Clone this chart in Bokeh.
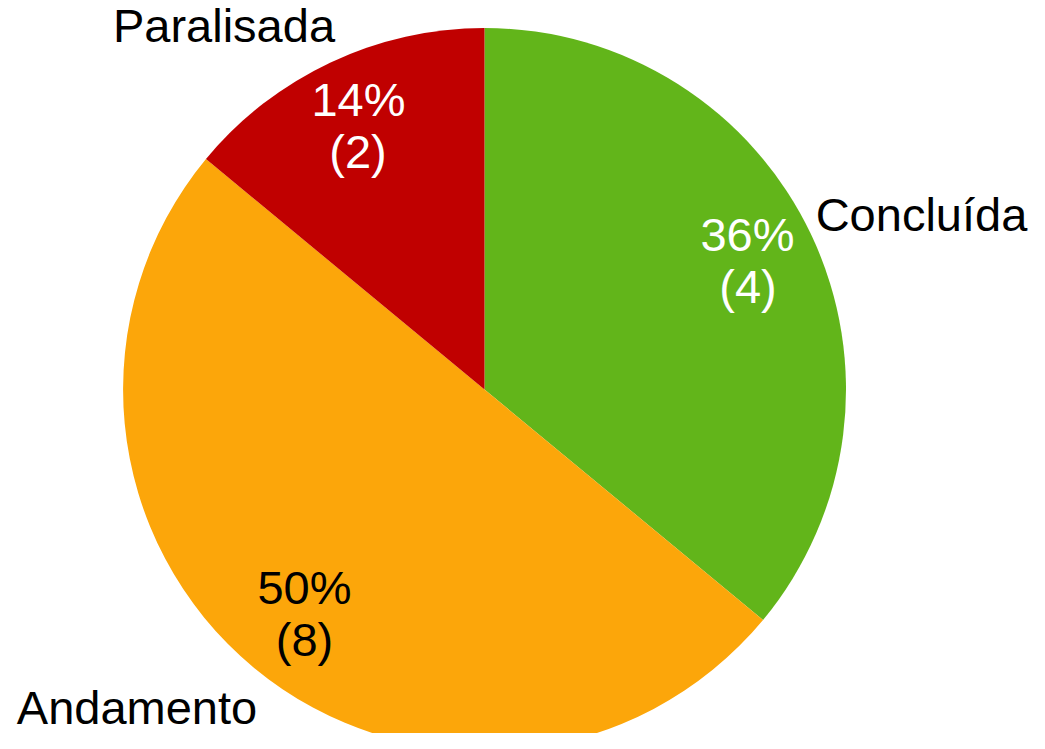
import math
from bokeh.plotting import figure
from bokeh.models import ColumnDataSource, Range1d
from bokeh.core.properties import value
from bokeh.embed import file_html
from bokeh.resources import INLINE

# ---- data ----
categories = ["Concluída", "Andamento", "Paralisada"]
percents = [36, 50, 14]
counts = [4, 8, 2]
colors = ["#62B51A", "#FCA60A", "#C00000"]
pct_text_colors = ["white", "black", "white"]

# ---- layout (picture pixel coords; y measured from top) ----
W, H = 1029, 733
cx, cy, R = 484, 389, 361.5
BASE_FIX = 18  # renderer places alphabetic baseline lower than requested
pct_pos = [(747, 252), (304, 605), (358, 117)]
cnt_pos = [(747.5, 304), (304, 657), (357.5, 169)]
name_pos = [(921, 232), (136.5, 725), (223.5, 43)]
FONT = "Liberation Sans"
FS = "47px"

def fy(y):
    return H - (y - BASE_FIX)

total = sum(percents)
starts, ends = [], []
acc = 0.0
for v in percents:
    a0 = math.pi / 2 - 2 * math.pi * acc / total
    acc += v
    a1 = math.pi / 2 - 2 * math.pi * acc / total
    starts.append(a0)
    ends.append(a1)

p = figure(width=W, height=H, output_backend="svg", toolbar_location=None,
           x_axis_type=None, y_axis_type=None,
           x_range=Range1d(0, W), y_range=Range1d(0, H),
           min_border=0, outline_line_color=None)
p.grid.visible = False
p.background_fill_color = "white"
p.border_fill_color = "white"

src = ColumnDataSource(dict(x=[cx] * 3, y=[H - cy] * 3, start=starts, end=ends, color=colors))
p.wedge(x="x", y="y", radius=R, start_angle="start", end_angle="end",
        direction="clock", fill_color="color", line_color=None, source=src)

pct_src = ColumnDataSource(dict(
    x=[q[0] for q in pct_pos], y=[fy(q[1]) for q in pct_pos],
    t=[f"{v}%" for v in percents], c=pct_text_colors))
cnt_src = ColumnDataSource(dict(
    x=[q[0] for q in cnt_pos], y=[fy(q[1]) for q in cnt_pos],
    t=[f"({n})" for n in counts], c=pct_text_colors))
name_src = ColumnDataSource(dict(
    x=[q[0] for q in name_pos], y=[fy(q[1]) for q in name_pos], t=categories))

for s in (pct_src, cnt_src):
    p.text(x="x", y="y", text="t", text_color="c", source=s,
           text_font=value(FONT), text_font_size=FS,
           text_align="center", text_baseline="alphabetic")
p.text(x="x", y="y", text="t", text_color="black", source=name_src,
       text_font=value(FONT), text_font_size=FS,
       text_align="center", text_baseline="alphabetic")

open("out.html", "w").write(file_html(p, INLINE))
